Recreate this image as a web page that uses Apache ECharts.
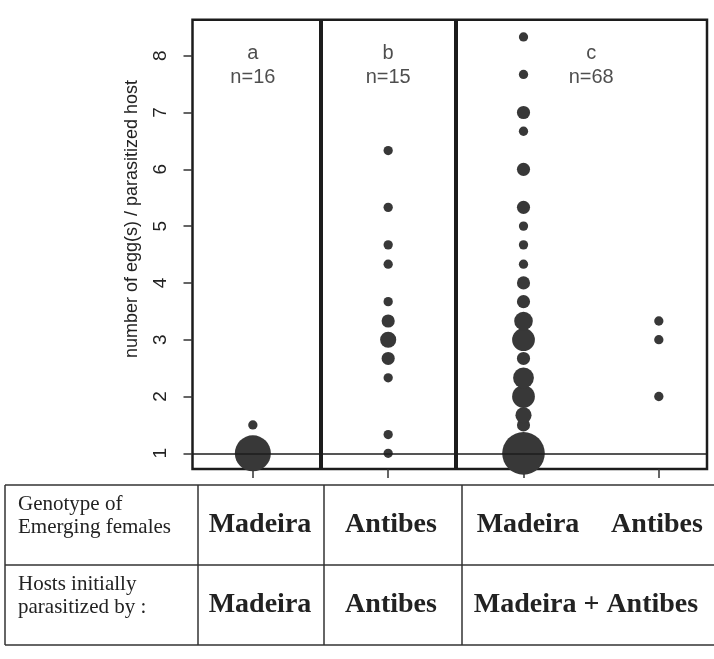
<!DOCTYPE html>
<html>
<head>
<meta charset="utf-8">
<script src="https://cdn.jsdelivr.net/npm/echarts@6/dist/echarts.min.js"></script>
<style>
html,body{margin:0;padding:0;background:#fff;}
#chart{width:714px;height:659px;}
</style>
</head>
<body>
<div id="chart"></div>
<script>
// ---- data ----
const GROUP_X = [1, 2, 3, 4];
const Y_TICKS = [1, 2, 3, 4, 5, 6, 7, 8];

const A_VALUES = [1.0, 1.5];
const A_COUNTS = [15, 1];

const B_VALUES = [1.0, 1.33, 2.33, 2.67, 3.0, 3.33, 3.67, 4.33, 4.67, 5.33, 6.33];
const B_COUNTS = [1, 1, 1, 2, 3, 2, 1, 1, 1, 1, 1];

const C_MAD_VALUES = [1.0, 1.5, 1.67, 2.0, 2.33, 2.67, 3.0, 3.33, 3.67, 4.0, 4.33, 4.67, 5.0, 5.33, 6.0, 6.67, 7.0, 7.67, 8.33];
const C_MAD_COUNTS = [21, 2, 3, 6, 5, 2, 6, 4, 2, 2, 1, 1, 1, 2, 2, 1, 2, 1, 1];

const C_ANT_VALUES = [2.0, 3.0, 3.33];
const C_ANT_COUNTS = [1, 1, 1];

const PANEL_LETTERS = ['a', 'b', 'c'];
const PANEL_N = ['n=16', 'n=15', 'n=68'];

const Y_TITLE = 'number of egg(s) / parasitized host';
const ROW_LABELS = ['Genotype of\nEmerging females', 'Hosts initially\nparasitized by :'];
const GENOTYPE_ROW = ['Madeira', 'Antibes', 'Madeira', 'Antibes'];
const HOSTS_ROW = ['Madeira', 'Antibes', 'Madeira + Antibes'];

// ---- build ----
const groups = [
  [A_VALUES, A_COUNTS],
  [B_VALUES, B_COUNTS],
  [C_MAD_VALUES, C_MAD_COUNTS],
  [C_ANT_VALUES, C_ANT_COUNTS]
];
const pointData = [];
groups.forEach(function (g, gi) {
  g[0].forEach(function (v, i) {
    pointData.push([GROUP_X[gi], v, g[1][i]]);
  });
});
const panelCenters = [GROUP_X[0], GROUP_X[1], (GROUP_X[2] + GROUP_X[3]) / 2];
const labelData = PANEL_LETTERS.map(function (l, i) {
  return { value: [panelCenters[i], 7.83], name: l + '\n' + PANEL_N[i] };
});

const INK = '#1c1c1c';
const TXT = '#222222';
const DOT = '#383838';
const SANS = '"Liberation Sans", Arial, sans-serif';
const SERIF = '"Liberation Serif", "Times New Roman", serif';

// table geometry
const T_TOP = 485, T_MID = 565, T_BOT = 645, T_LEFT = 5, T_RIGHT = 714;
const T_COLS = [5, 198, 324, 462];
const graphics = [];
[T_TOP, T_MID, T_BOT].forEach(function (y) {
  graphics.push({ type: 'line', shape: { x1: T_LEFT, y1: y, x2: T_RIGHT, y2: y }, style: { stroke: '#333', lineWidth: 1.5 } });
});
T_COLS.forEach(function (x) {
  graphics.push({ type: 'line', shape: { x1: x, y1: T_TOP, x2: x, y2: T_BOT }, style: { stroke: '#333', lineWidth: 1.5 } });
});
const rowCenters = [(T_TOP + T_MID) / 2, (T_MID + T_BOT) / 2];
ROW_LABELS.forEach(function (t, i) {
  graphics.push({ type: 'text', style: { text: t, x: 18, y: rowCenters[i] - 9, font: '21px ' + SERIF, fill: TXT, align: 'left', verticalAlign: 'middle', lineHeight: 23 } });
});
const genoX = [260, 391, 528, 657];
GENOTYPE_ROW.forEach(function (t, i) {
  graphics.push({ type: 'text', style: { text: t, x: genoX[i], y: rowCenters[0], font: 'bold 28px ' + SERIF, fill: TXT, align: 'center', verticalAlign: 'middle' } });
});
const hostX = [260, 391, 586];
HOSTS_ROW.forEach(function (t, i) {
  graphics.push({ type: 'text', style: { text: t, x: hostX[i], y: rowCenters[1], font: 'bold 28px ' + SERIF, fill: TXT, align: 'center', verticalAlign: 'middle' } });
});
graphics.push({ type: 'text', x: 132, y: 219, rotation: Math.PI / 2, style: { text: Y_TITLE, x: 0, y: 0, font: '18px ' + SANS, fill: TXT, align: 'center', verticalAlign: 'middle' } });

const chart = echarts.init(document.getElementById('chart'), null, { renderer: 'canvas' });
chart.setOption({
  animation: false,
  backgroundColor: '#fff',
  grid: { left: 192.5, right: 7, top: 19.7, bottom: 190, show: true, borderColor: INK, borderWidth: 2.5, backgroundColor: 'transparent' },
  xAxis: {
    type: 'value', min: 0.554, max: 4.356,
    axisLine: { show: false }, splitLine: { show: false },
    axisLabel: { show: false },
    axisTick: { show: true, customValues: GROUP_X, length: 9, lineStyle: { color: '#333', width: 1.5 } }
  },
  yAxis: {
    type: 'value', min: 0.724, max: 8.634,
    axisLine: { show: false }, splitLine: { show: false },
    axisTick: { show: true, customValues: Y_TICKS, length: 9, lineStyle: { color: '#333', width: 1.5 } },
    axisLabel: { customValues: Y_TICKS, rotate: 90, margin: 22, fontSize: 19, fontFamily: SANS, color: TXT }
  },
  series: [
    {
      type: 'scatter',
      data: pointData,
      symbolSize: function (d) { return 9.3 * Math.sqrt(d[2]); },
      itemStyle: { color: DOT, opacity: 1 },
      silent: true,
      markLine: {
        silent: true, symbol: ['none', 'none'], label: { show: false },
        data: [
          { xAxis: 1.5, lineStyle: { color: INK, width: 4, type: 'solid' } },
          { xAxis: 2.5, lineStyle: { color: INK, width: 4, type: 'solid' } },
          { yAxis: 1, lineStyle: { color: INK, width: 1.5, type: 'solid' } }
        ]
      }
    },
    {
      type: 'scatter',
      data: labelData,
      symbolSize: 0,
      silent: true,
      label: { show: true, position: 'inside', formatter: '{b}', fontSize: 20, lineHeight: 24, fontFamily: SANS, color: TXT }
    }
  ],
  graphic: graphics
});
</script>
</body>
</html>
